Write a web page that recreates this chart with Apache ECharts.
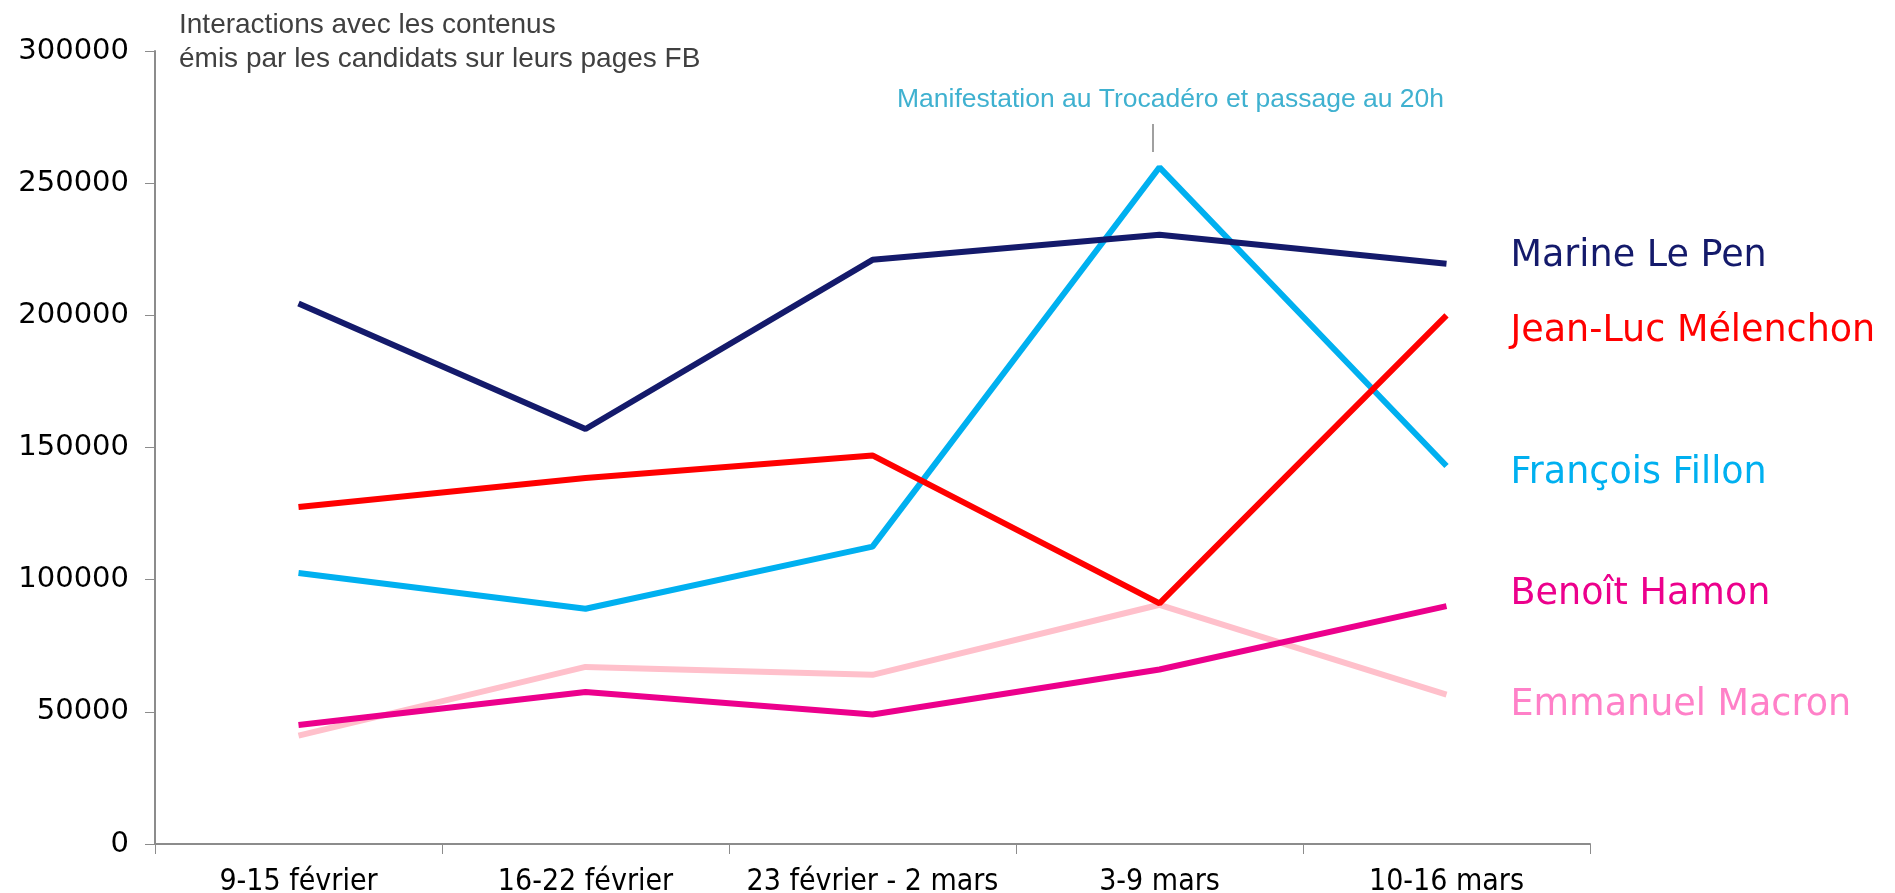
<!DOCTYPE html>
<html>
<head>
<meta charset="utf-8">
<script src="https://cdn.jsdelivr.net/npm/echarts@6/dist/echarts.min.js"></script>
<style>
  html, body { margin: 0; padding: 0; background: #fff; }
  #chart { width: 1895px; height: 893px; }
</style>
</head>
<body>
<div id="chart"></div>
<script>
  var weeks = ['9-15 février', '16-22 février', '23 février - 2 mars', '3-9 mars', '10-16 mars'];
  var lePen = [204500, 157000, 221000, 230500, 219500];
  var melenchon = [127500, 138500, 147000, 91000, 200000];
  var fillon = [102500, 89000, 112500, 256000, 143000];
  var hamon = [45000, 57500, 49000, 66000, 90000];
  var macron = [41000, 67000, 64000, 90500, 56500];

  var chart = echarts.init(document.getElementById('chart'));

  function serie(name, label, data, lineColor, labelColor, dy) {
    return {
      name: name,
      type: 'line',
      data: data,
      symbol: 'none',
      lineStyle: { color: lineColor, width: 6 },
      itemStyle: { color: lineColor },
      endLabel: {
        show: true,
        formatter: label,
        color: labelColor,
        fontFamily: 'DejaVu Sans',
        fontSize: 36.5,
        distance: 0,
        offset: [64, dy]
      }
    };
  }

  var option = {
    animation: false,
    backgroundColor: '#ffffff',
    title: {
      text: 'Interactions avec les contenus\némis par les candidats sur leurs pages FB',
      left: 174,
      top: 3,
      textStyle: {
        fontFamily: 'Liberation Sans',
        fontWeight: 'normal',
        fontSize: 28,
        lineHeight: 34,
        color: '#404040'
      }
    },
    grid: { left: 155, right: 305, top: 51, bottom: 49, containLabel: false, outerBoundsMode: 'none' },
    xAxis: {
      type: 'category',
      data: weeks,
      boundaryGap: true,
      axisLine: { lineStyle: { color: '#8c8c8c', width: 2 } },
      axisTick: { show: true, length: 10, lineStyle: { color: '#8c8c8c', width: 1 } },
      axisLabel: {
        interval: 0,
        color: '#000',
        fontFamily: 'DejaVu Sans Condensed',
        fontSize: 30,
        margin: 23
      }
    },
    yAxis: {
      type: 'value',
      min: 0,
      max: 300000,
      interval: 50000,
      splitLine: { show: false },
      axisLine: { show: true, lineStyle: { color: '#8c8c8c', width: 2 } },
      axisTick: { show: true, length: 10, lineStyle: { color: '#8c8c8c', width: 1 } },
      axisLabel: {
        formatter: function (v) { return String(v); },
        color: '#000',
        fontFamily: 'DejaVu Sans',
        fontSize: 29,
        margin: 26
      }
    },
    graphic: [
      {
        type: 'text',
        left: 1197 - 300,
        top: 86,
        style: {
          text: 'Manifestation au Trocadéro et passage au 20h',
          fontFamily: 'Liberation Sans',
          fontSize: 26.5,
          fill: '#3fb1d0',
          width: 600,
          align: 'center'
        }
      },
      {
        type: 'line',
        shape: { x1: 1153, y1: 124, x2: 1153, y2: 152 },
        style: { stroke: '#808080', lineWidth: 1.5 }
      }
    ],
    series: [
      serie('Macron', 'Emmanuel Macron', macron, '#ffc0cb', '#ff80c8', 11),
      serie('Hamon', 'Benoît Hamon', hamon, '#ec008c', '#ec008c', -12),
      serie('Fillon', 'François Fillon', fillon, '#00b0f0', '#00b0f0', 8),
      serie('Mélenchon', 'Jean-Luc Mélenchon', melenchon, '#ff0000', '#ff0000', 16),
      serie('Le Pen', 'Marine Le Pen', lePen, '#141a6b', '#141a6b', -7)
    ]
  };

  chart.setOption(option);
</script>
</body>
</html>
